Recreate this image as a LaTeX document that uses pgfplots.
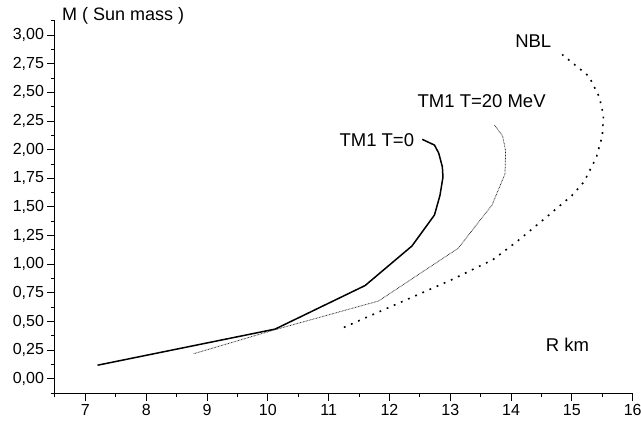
\documentclass[border=0pt]{standalone}
\usepackage{fontspec}
\setmainfont{Liberation Sans}
\usepackage{pgfplots}
\pgfplotsset{compat=1.18}
\begin{document}
\begin{tikzpicture}
\begin{axis}[
 scale only axis, width=577.7bp, height=372.6bp,
 xmin=6.5, xmax=16, ymin=-0.125, ymax=3.125,
 axis x line*=bottom, axis y line*=left,
 axis line style={line width=1bp, -},
 tick align=outside,
 major tick length=7.5bp, minor tick length=4bp,
 every tick/.style={black, line width=1bp},
 xtick={7,8,9,10,11,12,13,14,15,16},
 ytick={0,0.25,0.5,0.75,1,1.25,1.5,1.75,2,2.25,2.5,2.75,3},
 minor xtick={6.5,7.5,8.5,9.5,10.5,11.5,12.5,13.5,14.5,15.5},
 minor ytick={-0.125,0.125,0.375,0.625,0.875,1.125,1.375,1.625,1.875,2.125,2.375,2.625,2.875,3.125},
 yticklabel style={/pgf/number format/.cd, fixed, fixed zerofill, precision=2, use comma},
 ticklabel style={font=\fontsize{16bp}{19bp}\selectfont},
 /pgf/number format/assume math mode=true,
 clip=false,
]
\addplot[black, line width=1.5bp] coordinates {
(7.2,0.12) (10.12,0.435) (11.6,0.815) (12.37,1.16) (12.74,1.43) (12.83,1.60) (12.88,1.76) (12.87,1.85) (12.81,1.97) (12.74,2.04) (12.54,2.09)};
\addplot[black!85, line width=0.8bp, dash pattern=on 0.7bp off 0.8bp] coordinates {
(8.78,0.22) (10.12,0.43) (11.82,0.68) (13.13,1.14) (13.69,1.52) (13.9,1.79) (13.91,1.99) (13.86,2.12) (13.72,2.22)};
\addplot[black, line width=1.6bp, dash pattern=on 1.8bp off 6bp] coordinates {
(11.25,0.45) (13.0,0.86) (13.7,1.04) (14.1,1.2) (14.6,1.42) (15.0,1.6) (15.2,1.72) (15.4,1.93) (15.5,2.12) (15.52,2.3) (15.45,2.46) (15.28,2.64) (14.84,2.83)};
\node[anchor=base west, inner sep=0pt, font=\fontsize{18bp}{21bp}\selectfont] at (axis cs:6.615,3.127) {M ( Sun mass )};
\node[anchor=base west, inner sep=0pt, font=\fontsize{18.5bp}{21bp}\selectfont] at (axis cs:11.176,2.024) {TM1 T=0};
\node[anchor=base west, inner sep=0pt, font=\fontsize{18.5bp}{21bp}\selectfont] at (axis cs:12.46,2.372) {TM1 T=20 MeV};
\node[anchor=base west, inner sep=0pt, font=\fontsize{18.5bp}{21bp}\selectfont] at (axis cs:14.066,2.895) {NBL};
\node[anchor=base west, inner sep=0pt, font=\fontsize{18.5bp}{21bp}\selectfont] at (axis cs:14.57,0.238) {R km};
\end{axis}
\pgfresetboundingbox
\path[use as bounding box] (current axis.south west) ++(-55bp,-29.7bp) rectangle ++(641bp,423bp);
\end{tikzpicture}
\end{document}
